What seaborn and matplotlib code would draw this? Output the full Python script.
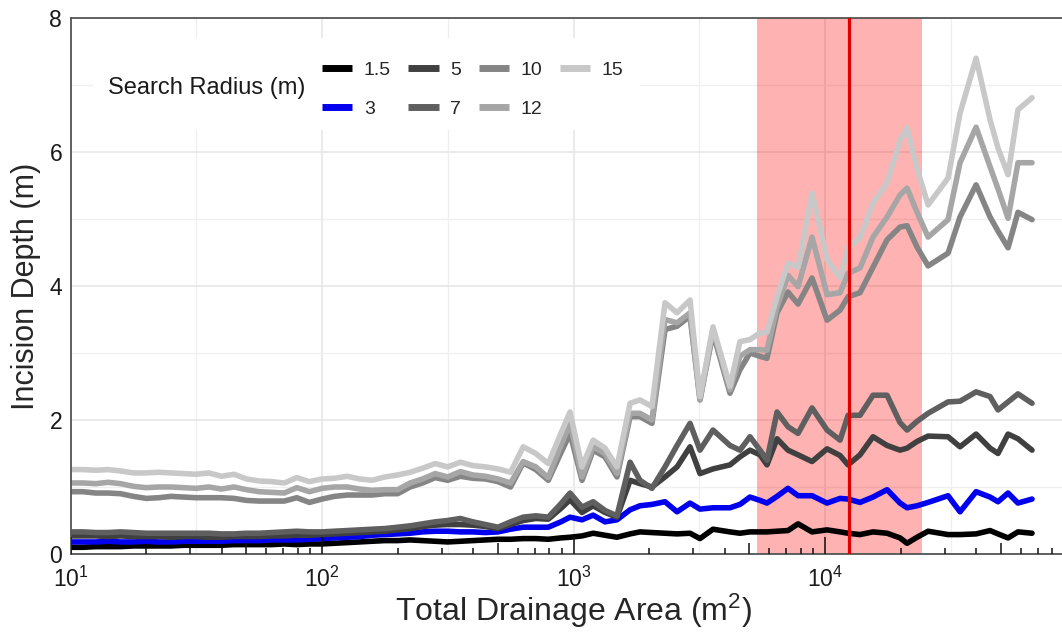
import matplotlib
matplotlib.use("Agg")
import numpy as np
import pandas as pd
import matplotlib.pyplot as plt
import seaborn as sns
from matplotlib.lines import Line2D
from matplotlib.patches import Rectangle
from matplotlib.ticker import FixedLocator, FixedFormatter, NullFormatter

sns.set_style("white")
plt.rcParams['font.family'] = ['Liberation Sans', 'DejaVu Sans']
plt.rcParams['mathtext.fontset'] = 'custom'
plt.rcParams['mathtext.rm'] = 'Liberation Sans'
plt.rcParams['mathtext.it'] = 'Liberation Sans:italic'
plt.rcParams['mathtext.bf'] = 'Liberation Sans:bold'
plt.rcParams['mathtext.default'] = 'regular'

# ---------------- data ----------------
area = [10, 11.2, 12.6, 14.1, 15.8, 17.8, 20.0, 22.4, 25.1, 28.2,
        31.6, 35.5, 39.8, 44.7, 50.1, 56.2, 63.1, 70.8, 79.4, 89.1,
        100, 112, 126, 141, 158, 178, 200, 224, 251, 282,
        316, 355, 398, 447, 501, 562, 631, 708, 794, 891,
        969, 1081, 1197, 1334, 1489, 1679, 1838, 2051, 2311, 2581,
        2906, 3184, 3586, 4190, 4590, 5032, 5517, 5879, 6445, 7125,
        7813, 8880, 10190, 11480, 12350, 13780, 15520, 17650, 19880, 21200,
        23230, 25700, 30850, 34430, 39880, 45320, 48740, 53440, 58520, 66550]

depth_1_5 = [0.10, 0.10, 0.11, 0.11, 0.11, 0.12, 0.12, 0.12, 0.12, 0.13,
             0.13, 0.13, 0.13, 0.14, 0.14, 0.14, 0.14, 0.15, 0.14, 0.15,
             0.15, 0.16, 0.17, 0.18, 0.19, 0.20, 0.20, 0.21, 0.20, 0.19,
             0.18, 0.19, 0.20, 0.21, 0.22, 0.22, 0.23, 0.23, 0.22, 0.24,
             0.25, 0.27, 0.31, 0.28, 0.25, 0.30, 0.33, 0.32, 0.31, 0.30,
             0.31, 0.23, 0.37, 0.33, 0.31, 0.33, 0.33, 0.33, 0.34, 0.35,
             0.45, 0.33, 0.36, 0.33, 0.31, 0.29, 0.33, 0.31, 0.24, 0.16,
             0.25, 0.34, 0.29, 0.29, 0.30, 0.35, 0.30, 0.24, 0.33, 0.31]

depth_3 = [0.18, 0.18, 0.18, 0.19, 0.18, 0.18, 0.19, 0.18, 0.18, 0.19,
           0.19, 0.19, 0.19, 0.20, 0.20, 0.20, 0.21, 0.21, 0.21, 0.22,
           0.23, 0.24, 0.25, 0.26, 0.28, 0.29, 0.30, 0.31, 0.33, 0.34,
           0.34, 0.33, 0.33, 0.32, 0.33, 0.37, 0.40, 0.40, 0.40, 0.48,
           0.55, 0.51, 0.58, 0.48, 0.51, 0.66, 0.72, 0.74, 0.78, 0.63,
           0.76, 0.67, 0.69, 0.69, 0.74, 0.85, 0.80, 0.76, 0.86, 0.98,
           0.87, 0.87, 0.76, 0.83, 0.82, 0.77, 0.85, 0.96, 0.76, 0.69,
           0.72, 0.77, 0.87, 0.63, 0.93, 0.85, 0.78, 0.91, 0.76, 0.82]

depth_5 = [0.27, 0.27, 0.27, 0.26, 0.27, 0.26, 0.26, 0.26, 0.25, 0.26,
           0.26, 0.25, 0.25, 0.26, 0.26, 0.26, 0.27, 0.27, 0.28, 0.28,
           0.29, 0.30, 0.31, 0.32, 0.33, 0.34, 0.36, 0.38, 0.41, 0.43,
           0.44, 0.44, 0.43, 0.41, 0.38, 0.44, 0.50, 0.53, 0.52, 0.68,
           0.81, 0.62, 0.72, 0.62, 0.55, 1.10, 1.05, 1.00, 1.15, 1.30,
           1.60, 1.20, 1.27, 1.33, 1.45, 1.55, 1.48, 1.33, 1.72, 1.55,
           1.48, 1.38, 1.57, 1.47, 1.33, 1.48, 1.75, 1.62, 1.55, 1.58,
           1.68, 1.76, 1.75, 1.60, 1.79, 1.58, 1.50, 1.79, 1.72, 1.55]

depth_7 = [0.33, 0.33, 0.32, 0.32, 0.33, 0.32, 0.31, 0.31, 0.31, 0.31,
           0.31, 0.31, 0.30, 0.30, 0.31, 0.31, 0.32, 0.33, 0.34, 0.33,
           0.33, 0.34, 0.35, 0.36, 0.37, 0.38, 0.40, 0.42, 0.45, 0.48,
           0.50, 0.53, 0.48, 0.44, 0.40, 0.48, 0.55, 0.57, 0.55, 0.75,
           0.91, 0.70, 0.78, 0.65, 0.57, 1.37, 1.10, 0.98, 1.30, 1.62,
           1.95, 1.55, 1.85, 1.62, 1.55, 1.75, 1.55, 1.40, 2.12, 1.90,
           1.80, 2.18, 1.85, 1.70, 2.07, 2.07, 2.37, 2.37, 1.96, 1.85,
           1.98, 2.10, 2.27, 2.28, 2.42, 2.35, 2.15, 2.27, 2.39, 2.25]

depth_10 = [0.93, 0.93, 0.91, 0.91, 0.90, 0.86, 0.83, 0.84, 0.86, 0.85,
            0.84, 0.84, 0.84, 0.83, 0.80, 0.79, 0.79, 0.79, 0.84, 0.77,
            0.82, 0.86, 0.88, 0.88, 0.88, 0.90, 0.90, 1.00, 1.06, 1.14,
            1.10, 1.16, 1.13, 1.12, 1.08, 1.00, 1.36, 1.26, 1.10, 1.51,
            1.80, 1.10, 1.55, 1.45, 1.15, 2.05, 2.05, 1.95, 3.35, 3.40,
            3.55, 2.30, 3.30, 2.40, 2.75, 3.00, 2.95, 2.92, 3.60, 3.91,
            3.73, 4.12, 3.49, 3.64, 3.84, 3.90, 4.28, 4.69, 4.88, 4.90,
            4.58, 4.30, 4.49, 5.03, 5.51, 5.03, 4.82, 4.57, 5.10, 4.99]

depth_12 = [1.06, 1.06, 1.05, 1.07, 1.05, 1.01, 0.99, 1.00, 1.00, 0.99,
            0.98, 1.00, 0.97, 1.00, 0.96, 0.93, 0.92, 0.91, 0.99, 0.93,
            0.98, 1.00, 1.00, 0.97, 0.95, 0.96, 0.96, 1.06, 1.12, 1.20,
            1.15, 1.23, 1.18, 1.16, 1.12, 1.06, 1.38, 1.30, 1.14, 1.62,
            1.95, 1.15, 1.60, 1.50, 1.20, 2.10, 2.10, 2.00, 3.50, 3.45,
            3.60, 2.30, 3.35, 2.45, 2.95, 3.05, 3.05, 3.04, 3.69, 4.16,
            3.99, 4.73, 3.87, 3.90, 4.19, 4.27, 4.73, 5.03, 5.36, 5.46,
            5.10, 4.73, 4.99, 5.84, 6.37, 5.78, 5.45, 5.01, 5.84, 5.84]

depth_15 = [1.26, 1.26, 1.25, 1.26, 1.24, 1.21, 1.21, 1.22, 1.21, 1.20,
            1.19, 1.21, 1.16, 1.19, 1.12, 1.09, 1.08, 1.06, 1.14, 1.08,
            1.12, 1.13, 1.16, 1.12, 1.10, 1.15, 1.18, 1.22, 1.28, 1.35,
            1.30, 1.37, 1.32, 1.30, 1.27, 1.22, 1.60, 1.50, 1.35, 1.80,
            2.12, 1.30, 1.70, 1.58, 1.30, 2.25, 2.30, 2.20, 3.75, 3.60,
            3.79, 2.35, 3.39, 2.50, 3.17, 3.20, 3.30, 3.31, 3.84, 4.34,
            4.28, 5.39, 4.39, 4.12, 4.57, 4.72, 5.24, 5.54, 6.18, 6.36,
            5.75, 5.21, 5.61, 6.58, 7.40, 6.48, 6.06, 5.66, 6.63, 6.81]

radii = ["1.5", "3", "5", "7", "10", "12", "15"]
series = [depth_1_5, depth_3, depth_5, depth_7, depth_10, depth_12, depth_15]
colors = ["#000000", "#0000EE", "#404040", "#5F5F5F", "#858585", "#A6A6A6", "#C8C8C8"]

threshold_area = 12460
threshold_low = 5350
threshold_high = 24400

x_ticks = [10, 100, 1000, 10000]
x_tick_labels = ["$10^{1}$", "$10^{2}$", "$10^{3}$", "$10^{4}$"]
y_ticks = [0, 2, 4, 6, 8]

# ---------------- figure ----------------
df = pd.concat([pd.DataFrame({"area": area, "depth": s, "radius": r})
                for r, s in zip(radii, series)], ignore_index=True)
palette = dict(zip(radii, colors))

W, H = 1062, 642
fig = plt.figure(figsize=(W / 100, H / 100), dpi=100)
px_left, px_right, px_top, px_bottom = 70.5, 1076.5, 18, 554
ax = fig.add_axes([px_left / W, 1 - px_bottom / H,
                   (px_right - px_left) / W, (px_bottom - px_top) / H])
ax.set_xscale("log")
ax.set_xlim(10, 100000)
ax.set_ylim(0, 8)
ax.set_axisbelow(True)

# grid
ax.xaxis.set_major_locator(FixedLocator(x_ticks))
ax.xaxis.set_major_formatter(FixedFormatter(x_tick_labels))
ax.xaxis.set_minor_locator(FixedLocator([10 ** (k + 0.5) for k in range(1, 5)]))
ax.xaxis.set_minor_formatter(NullFormatter())
ax.yaxis.set_major_locator(FixedLocator(y_ticks))
ax.yaxis.set_minor_locator(FixedLocator([1, 3, 5, 7]))
ax.grid(which="major", color="#e4e4e4", linewidth=1.1)
ax.grid(which="minor", color="#efefef", linewidth=0.9)

# shaded window and threshold
ax.axvspan(threshold_low, threshold_high, color="#ff0000", alpha=0.30, lw=0, zorder=1)

sns.lineplot(data=df, x="area", y="depth", hue="radius", hue_order=radii,
             palette=palette, linewidth=4.0, estimator=None, errorbar=None,
             legend=False, ax=ax, zorder=2, solid_joinstyle="round")

ax.axvline(threshold_area, color="#e00000", linewidth=2.3, zorder=3)

# log ticks (annotation_logticks style, drawn inside the panel)
axh = px_bottom - px_top
for d in [10, 100, 1000, 10000]:
    for m in range(1, 10):
        length = 17 if m == 1 else (11 if m == 5 else 6)
        ax.plot([d * m, d * m], [0, length / axh], color="#111111", lw=1.1,
                transform=ax.get_xaxis_transform(), zorder=4, clip_on=True,
                solid_capstyle="butt")

# axes styling
for side in ["left", "bottom", "top", "right"]:
    ax.spines[side].set_color("#555555")
    ax.spines[side].set_linewidth(1.3)
ax.tick_params(axis="both", which="major", direction="out", length=4, width=1.1,
               color="#333333", labelsize=16.5, labelcolor="#1a1a1a")
ax.tick_params(axis="x", which="major", pad=5)
ax.tick_params(axis="y", which="major", pad=2)
ax.tick_params(axis="both", which="minor", length=0)
ax.set_xlabel("Total Drainage Area (m$^2$)", fontsize=23, labelpad=0)
ax.set_ylabel("Incision Depth (m)", fontsize=22, labelpad=6)

# legend (title on the left, 2 rows x 4 columns)
ax.add_patch(Rectangle((93 / W, 1 - 130 / H), (640 - 93) / W, 92 / H,
                       transform=fig.transFigure, facecolor="white",
                       edgecolor="none", zorder=1.5))
handles = [Line2D([0], [0], color=c, lw=5.0, solid_capstyle="butt") for c in colors]
leg = ax.legend(handles, radii, ncol=4, loc="upper left",
                bbox_to_anchor=(322 / W, 1 - 61 / H), bbox_transform=fig.transFigure,
                frameon=False, fontsize=14, handlelength=1.55, handletextpad=0.6,
                columnspacing=0.9, labelspacing=1.1, borderpad=0, borderaxespad=0)
leg.set_zorder(5)
ax.text(108 / W, 1 - 88 / H, "Search Radius (m)", transform=fig.transFigure,
        fontsize=17, ha="left", va="center", color="#1a1a1a", zorder=6)

fig.savefig("out.png", dpi=100)
